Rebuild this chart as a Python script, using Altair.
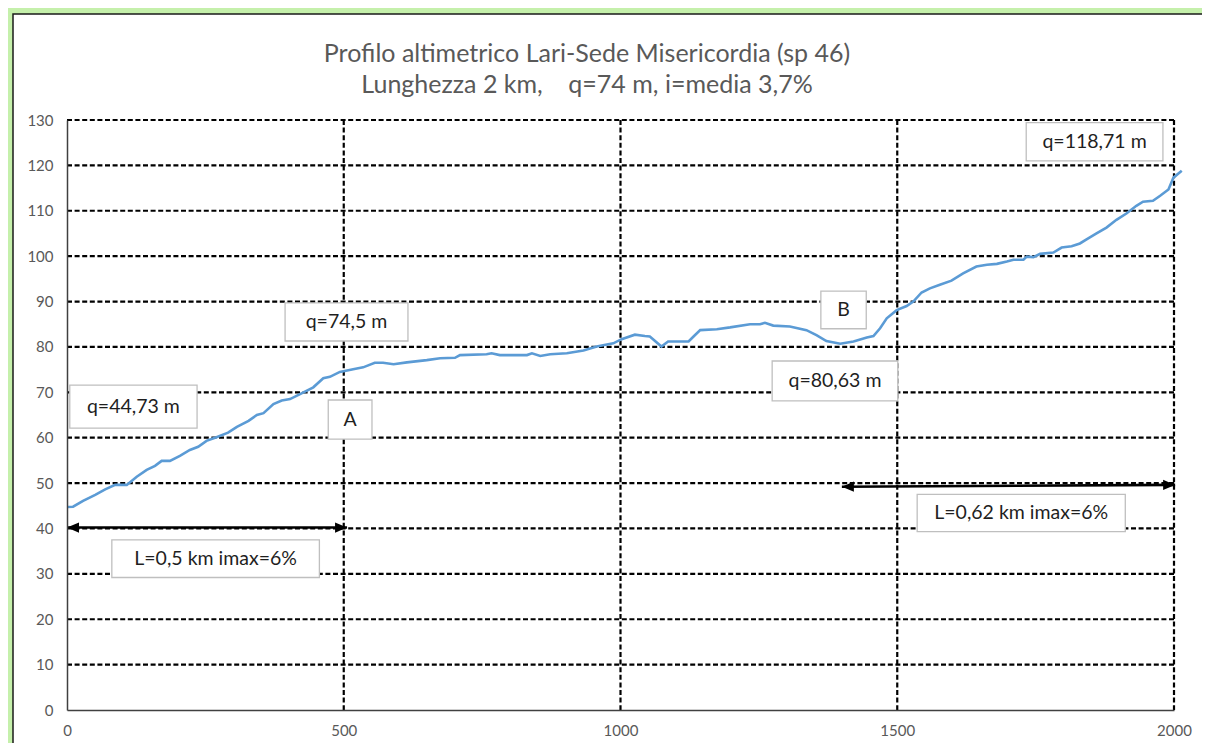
import altair as alt
import pandas as pd

# ---- data ----
dist = [0, 11, 29, 51, 69, 87, 108, 126, 144, 159,
        171, 186, 204, 222, 237, 252, 270, 291, 307, 328,
        343, 355, 373, 388, 403, 421, 445, 463, 475, 493,
        517, 535, 556, 571, 590, 614, 650, 674, 701, 710,
        758, 767, 782, 831, 840, 855, 873, 903, 933, 957,
        987, 1002, 1026, 1044, 1053, 1074, 1086, 1101, 1123, 1132,
        1144, 1174, 1198, 1234, 1252, 1261, 1276, 1306, 1336, 1354,
        1372, 1397, 1421, 1445, 1457, 1469, 1481, 1499, 1517, 1529,
        1544, 1559, 1577, 1598, 1619, 1643, 1662, 1680, 1698, 1710,
        1728, 1734, 1746, 1758, 1782, 1797, 1815, 1830, 1842, 1860,
        1878, 1896, 1914, 1932, 1944, 1962, 1975, 1990, 1999, 2014]
elev = [44.73, 44.8, 46.1, 47.4, 48.6, 49.6, 49.6, 51.4, 52.9, 53.8,
        54.9, 54.9, 56.0, 57.3, 58.0, 59.3, 60.1, 61.1, 62.4, 63.7,
        65.0, 65.4, 67.4, 68.2, 68.5, 69.6, 71.1, 73.1, 73.4, 74.5,
        75.1, 75.5, 76.5, 76.5, 76.2, 76.6, 77.1, 77.5, 77.6, 78.2,
        78.4, 78.6, 78.2, 78.2, 78.6, 78.0, 78.4, 78.6, 79.2, 80.1,
        80.8, 81.7, 82.7, 82.4, 82.3, 80.1, 81.2, 81.2, 81.2, 82.3,
        83.7, 83.9, 84.3, 85.0, 85.0, 85.3, 84.7, 84.5, 83.7, 82.6,
        81.3, 80.7, 81.2, 82.1, 82.4, 84.1, 86.3, 88.1, 89.0, 90.0,
        92.0, 92.9, 93.7, 94.6, 96.2, 97.7, 98.1, 98.3, 98.8, 99.2,
        99.2, 99.9, 99.8, 100.5, 100.8, 101.9, 102.2, 102.8, 103.7, 105.0,
        106.3, 108.0, 109.4, 111.1, 112.0, 112.2, 113.3, 114.7, 117.3, 118.8]

x_ticks = [0, 500, 1000, 1500, 2000]
y_ticks = [0, 10, 20, 30, 40, 50, 60, 70, 80, 90, 100, 110, 120, 130]
x_grid = [500, 1000, 1500, 2000]
y_grid = [10, 20, 30, 40, 50, 60, 70, 80, 90, 100, 110, 120, 130]

title_lines = ["Profilo altimetrico Lari-Sede Misericordia (sp 46)",
               "Lunghezza 2 km,\u00a0\u00a0\u00a0 q=74 m, i=media 3,7%"]

ann_text = ["q=44,73 m", "q=74,5 m", "A", "B", "q=80,63 m", "q=118,71 m",
            "L=0,5 km imax=6%", "L=0,62 km imax=6%"]
ann_x0 = [5, 394, 472, 1362, 1274, 1733, 81, 1536]
ann_x1 = [235, 616, 551, 1444, 1501, 1980, 456, 1912]
ann_y0 = [62.1, 81.3, 59.7, 84.0, 68.1, 121.0, 29.2, 39.3]
ann_y1 = [71.6, 89.7, 68.3, 92.3, 76.9, 129.4, 37.5, 47.5]

arrow_x0 = [0, 1400]
arrow_x1 = [506, 2002]
arrow_y0 = [40.2, 49.2]
arrow_y1 = [40.2, 49.6]

# ---- tables ----
profile = pd.DataFrame({"dist": dist, "elev": elev})
boxes = pd.DataFrame({"t": ann_text, "x0": ann_x0, "x1": ann_x1, "y0": ann_y0, "y1": ann_y1})
boxes["xc"] = (boxes["x0"] + boxes["x1"]) / 2
boxes["yc"] = (boxes["y0"] + boxes["y1"]) / 2
arrows = pd.DataFrame({"x0": arrow_x0, "x1": arrow_x1, "y0": arrow_y0, "y1": arrow_y1})

FONT = "Lato"
xs = alt.Scale(domain=[0, 2000], nice=False, zero=False)
ys = alt.Scale(domain=[0, 130], nice=False, zero=False)
ax_x = alt.Axis(values=x_ticks, grid=False, ticks=False, labelPadding=13, format="d",
                zindex=1, labelFlush=False, title=None)
ax_y = alt.Axis(values=y_ticks, grid=False, ticks=False, labelPadding=14, format="d",
                zindex=1, title=None)
one = alt.Data(values=[{"k": 0}])


def X(field):
    return alt.X(field, type="quantitative", scale=xs, axis=ax_x)


def Y(field):
    return alt.Y(field, type="quantitative", scale=ys, axis=ax_y)


panel = alt.Chart(one).mark_rect(fill="white", stroke="#1a1a1a", strokeWidth=1.5).encode(
    x=alt.value(-54), x2=alt.value(1300), y=alt.value(-106), y2=alt.value(800))

dash = dict(stroke="black", strokeWidth=2.2, strokeDash=[5, 2.6])
hgrid = alt.Chart(pd.DataFrame({"gy": y_grid})).mark_rule(**dash).encode(y=Y("gy"))
vgrid = alt.Chart(pd.DataFrame({"gx": x_grid})).mark_rule(**dash).encode(x=X("gx"))

line = alt.Chart(profile).mark_line(color="#5b9bd5", strokeWidth=2.6).encode(
    x=X("dist"), y=Y("elev"))

arrow_lines = alt.Chart(arrows).mark_rule(color="black", strokeWidth=2.6).encode(
    x=X("x0"), x2="x1:Q", y=Y("y0"), y2="y1:Q")
head_l = alt.Chart(arrows).mark_point(
    shape="M0,0L2,-0.85L2,0.85Z", filled=True, fill="black", opacity=1, size=144, strokeWidth=0
).encode(x=X("x0"), y=Y("y0"))
head_r = alt.Chart(arrows).mark_point(
    shape="M0,0L-2,-0.85L-2,0.85Z", filled=True, fill="black", opacity=1, size=144, strokeWidth=0
).encode(x=X("x1"), y=Y("y1"))

box_rects = alt.Chart(boxes).mark_rect(fill="white", stroke="#bfbfbf", strokeWidth=1.3).encode(
    x=X("x0"), x2="x1:Q", y=Y("y0"), y2="y1:Q")
box_text = alt.Chart(boxes).mark_text(font=FONT, fontSize=19.5, color="#1f1f1f",
                                      align="center", baseline="middle").encode(
    x=X("xc"), y=Y("yc"), text="t:N")

t1 = alt.Chart(one).mark_text(text=title_lines[0], font=FONT, fontSize=25, color="#595959",
                              align="center", baseline="alphabetic").encode(
    x=alt.value(520), y=alt.value(-58))
t2 = alt.Chart(one).mark_text(text=title_lines[1], font=FONT, fontSize=25, color="#595959",
                              align="center", baseline="alphabetic").encode(
    x=alt.value(520), y=alt.value(-27))

chart = alt.layer(
    panel, hgrid, vgrid, line, arrow_lines, head_l, head_r, box_rects, box_text, t1, t2
).properties(
    width=1107, height=590,
    padding={"left": 59, "top": 112, "right": 28, "bottom": 33},
    autosize=alt.AutoSizeParams(type="none"),
    background="#c5f0ab",
).configure_view(stroke=None).configure_axis(
    labelFont=FONT, labelFontSize=15, labelColor="#595959",
    domainColor="#404040", domainWidth=1.5,
)

chart.save("out.html", embed_options={"renderer": "svg", "actions": False})
